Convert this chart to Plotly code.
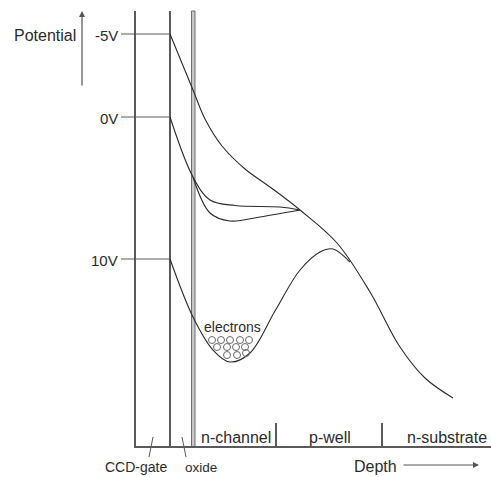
import plotly.graph_objects as go

# ---- data (diagram coordinates; x = depth, y = potential, pixel-like units) ----
volt_labels = ["-5V", "0V", "10V"]
volt_levels = [34, 117, 259]

curve_m5_x = [170, 193, 205, 222, 245, 270, 300, 337, 370, 400, 425, 453]
curve_m5_y = [34, 90, 119, 146, 169, 187, 210, 243, 292, 347, 378, 398]

curve_0a_x = [170, 193, 210, 235, 280, 300]
curve_0a_y = [117, 177, 200, 205.5, 207, 210]
curve_0b_x = [193, 210, 230, 260, 300]
curve_0b_y = [177, 213, 221, 217, 210]

curve_10_x = [170, 193, 213, 230, 250, 275, 300, 320, 333, 350]
curve_10_y = [259, 317, 350, 362, 353, 311, 270, 252, 249, 262]

electron_x = [212, 221, 230, 240, 249, 217, 227, 236, 245, 227, 237, 246]
electron_y = [340, 340, 340, 340, 340, 347, 347, 347, 347, 355, 355, 353]

region_labels = ["n-channel", "p-well", "n-substrate"]
region_centers = [236, 330, 447]
region_bounds = [276, 382]

W, H = 491, 477
LINE = "#5a5a5a"
CURVE = "#2a2a2a"
TXT = "#2b2b2b"
FONT = "Liberation Sans, Arial, sans-serif"

fig = go.Figure()

for xs, ys in [(curve_m5_x, curve_m5_y), (curve_0a_x, curve_0a_y),
               (curve_0b_x, curve_0b_y), (curve_10_x, curve_10_y)]:
    fig.add_trace(go.Scatter(x=xs, y=ys, mode="lines",
                             line=dict(color=CURVE, width=1.1, shape="spline", smoothing=1),
                             hoverinfo="skip", showlegend=False))

fig.add_trace(go.Scatter(x=electron_x, y=electron_y, mode="markers",
                         marker=dict(symbol="circle-open", size=7, color="#6a6a6a",
                                     line=dict(width=1, color="#6a6a6a")),
                         hoverinfo="skip", showlegend=False))

shapes = []
# vertical structure lines
for xv in [135, 170]:
    shapes.append(dict(type="line", x0=xv, x1=xv, y0=11, y1=447,
                       line=dict(color=LINE, width=2), layer="below"))
shapes.append(dict(type="rect", x0=191.5, x1=195, y0=11, y1=447,
                   fillcolor="#c8c8c8", line=dict(color="#6f6f6f", width=1), layer="below"))
# bottom axis
shapes.append(dict(type="line", x0=134, x1=491, y0=447, y1=447,
                   line=dict(color=LINE, width=2)))
# region ticks
for xb in region_bounds:
    shapes.append(dict(type="line", x0=xb, x1=xb, y0=423, y1=447,
                       line=dict(color=LINE, width=2)))
# voltage level lines
for lv in volt_levels:
    shapes.append(dict(type="line", x0=121, x1=170, y0=lv, y1=lv,
                       line=dict(color=LINE, width=1.2)))
# leader lines
shapes.append(dict(type="line", x0=153, y0=437, x1=149, y1=457, line=dict(color=LINE, width=1)))
shapes.append(dict(type="line", x0=182, y0=437, x1=186, y1=457, line=dict(color=LINE, width=1)))

ann = []
ann.append(dict(x=45, y=35, text="Potential", showarrow=False, xanchor="center", yanchor="middle",
                font=dict(size=16, color=TXT, family=FONT)))
for lab, lv in zip(volt_labels, volt_levels):
    ann.append(dict(x=120, y=lv + 1, text=lab, showarrow=False, xanchor="right", yanchor="middle",
                    font=dict(size=15, color=TXT, family=FONT)))
for lab, cx in zip(region_labels, region_centers):
    ann.append(dict(x=cx, y=437, text=lab, showarrow=False, xanchor="center", yanchor="middle",
                    font=dict(size=16, color=TXT, family=FONT)))
ann.append(dict(x=136, y=467, text="CCD-gate", showarrow=False, xanchor="center", yanchor="middle",
                font=dict(size=14, color=TXT, family=FONT)))
ann.append(dict(x=201, y=467, text="oxide", showarrow=False, xanchor="center", yanchor="middle",
                font=dict(size=13.5, color=TXT, family=FONT)))
ann.append(dict(x=375, y=466, text="Depth", showarrow=False, xanchor="center", yanchor="middle",
                font=dict(size=16, color=TXT, family=FONT)))
ann.append(dict(x=232, y=327, text="electrons", showarrow=False, xanchor="center", yanchor="middle",
                font=dict(size=14, color=TXT, family=FONT)))
# arrows
ann.append(dict(x=82, y=11, ax=82, ay=87, xref="x", yref="y", axref="x", ayref="y", text="",
                showarrow=True, arrowhead=2, arrowsize=1, arrowwidth=1.2, arrowcolor="#555"))
ann.append(dict(x=479, y=465, ax=402, ay=465, xref="x", yref="y", axref="x", ayref="y", text="",
                showarrow=True, arrowhead=2, arrowsize=1, arrowwidth=1.2, arrowcolor="#555"))
for a in ann:
    a.setdefault("xref", "x")
    a.setdefault("yref", "y")

fig.update_layout(
    width=W, height=H, margin=dict(l=0, r=0, t=0, b=0),
    paper_bgcolor="white", plot_bgcolor="white",
    xaxis=dict(range=[0, W], visible=False, fixedrange=True),
    yaxis=dict(range=[H, 0], visible=False, fixedrange=True),
    shapes=shapes, annotations=ann, showlegend=False,
)

fig.write_html("out.html")
